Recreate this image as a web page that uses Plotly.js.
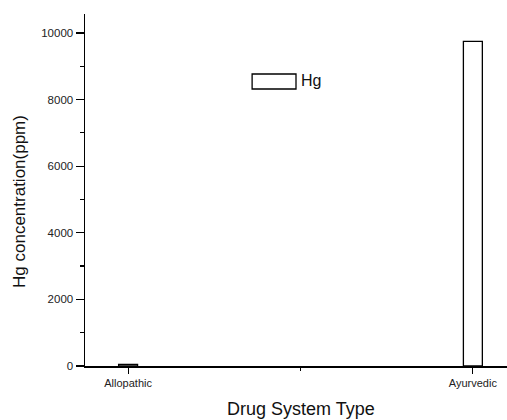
<!DOCTYPE html>
<html>
<head>
<meta charset="utf-8">
<script src="https://cdn.plot.ly/plotly-3.0.1.min.js"></script>
<style>html,body{margin:0;padding:0;background:#fff;}#chart{width:507px;height:420px;}</style>
</head>
<body>
<div id="chart"></div>
<script>
const categories = ["Allopathic", "Ayurvedic"];
const hgValues = [50, 9750];
const seriesName = "Hg";
const xTitle = "Drug System Type";
const yTitle = "Hg concentration(ppm)";
const yTickVals = [0, 2000, 4000, 6000, 8000, 10000];
const yTickText = ["0", "2000", "4000", "6000", "8000", "10000"];

const xPos = categories.map((c, i) => i);

const trace = {
  type: "bar",
  x: xPos,
  y: hgValues,
  name: seriesName,
  width: 0.055,
  marker: {color: "#ffffff", line: {color: "#000000", width: 1.3}},
  showlegend: false,
  hoverinfo: "x+y"
};

const font = "Liberation Sans, Arial, sans-serif";

const layout = {
  width: 507, height: 420,
  margin: {l: 85, r: 0, t: 14, b: 54, pad: 0},
  paper_bgcolor: "#fff", plot_bgcolor: "#fff",
  font: {family: font, color: "#111"},
  showlegend: false,
  xaxis: {
    range: [-0.125, 1.099],
    tickmode: "array", tickvals: xPos, ticktext: categories,
    ticks: "outside", ticklen: 6, tickwidth: 1.2, tickcolor: "#000",
    minor: {tickmode: "array", tickvals: [0.5], ticks: "outside", ticklen: 3, tickwidth: 1, tickcolor: "#000"},
    showline: true, linecolor: "#000", linewidth: 1.5,
    showgrid: false, zeroline: false,
    tickfont: {size: 11, family: font, color: "#222"},
    automargin: false
  },
  yaxis: {
    range: [0, 10570],
    tickmode: "array", tickvals: yTickVals, ticktext: yTickText,
    ticks: "outside", ticklen: 8, tickwidth: 1.3, tickcolor: "#000",
    minor: {dtick: 1000, tick0: 0, ticks: "outside", ticklen: 4, tickwidth: 1.2, tickcolor: "#000"},
    showline: true, linecolor: "#000", linewidth: 1.5,
    showgrid: false, zeroline: false,
    tickfont: {size: 11.5, family: font, color: "#222"},
    automargin: false
  },
  shapes: [{
    type: "rect", xref: "paper", yref: "paper",
    x0: 0.396, x1: 0.5, y0: 0.787, y1: 0.8295,
    line: {color: "#000", width: 1.3}, fillcolor: "#fff"
  }],
  annotations: [{
    xref: "paper", yref: "paper", x: 0.507, y: 0.81,
    xanchor: "left", yanchor: "middle", showarrow: false,
    text: seriesName, font: {size: 16, family: font, color: "#111"}
  }, {
    xref: "paper", yref: "paper", x: 0.512, y: -0.122,
    xanchor: "center", yanchor: "middle", showarrow: false,
    text: xTitle, font: {size: 18, family: font, color: "#111"}
  }, {
    xref: "paper", yref: "paper", x: -0.154, y: 0.466,
    xanchor: "center", yanchor: "middle", showarrow: false, textangle: -90,
    text: yTitle, font: {size: 17, family: font, color: "#111"}
  }]
};

Plotly.newPlot("chart", [trace], layout, {displayModeBar: false, staticPlot: true});
</script>
</body>
</html>
